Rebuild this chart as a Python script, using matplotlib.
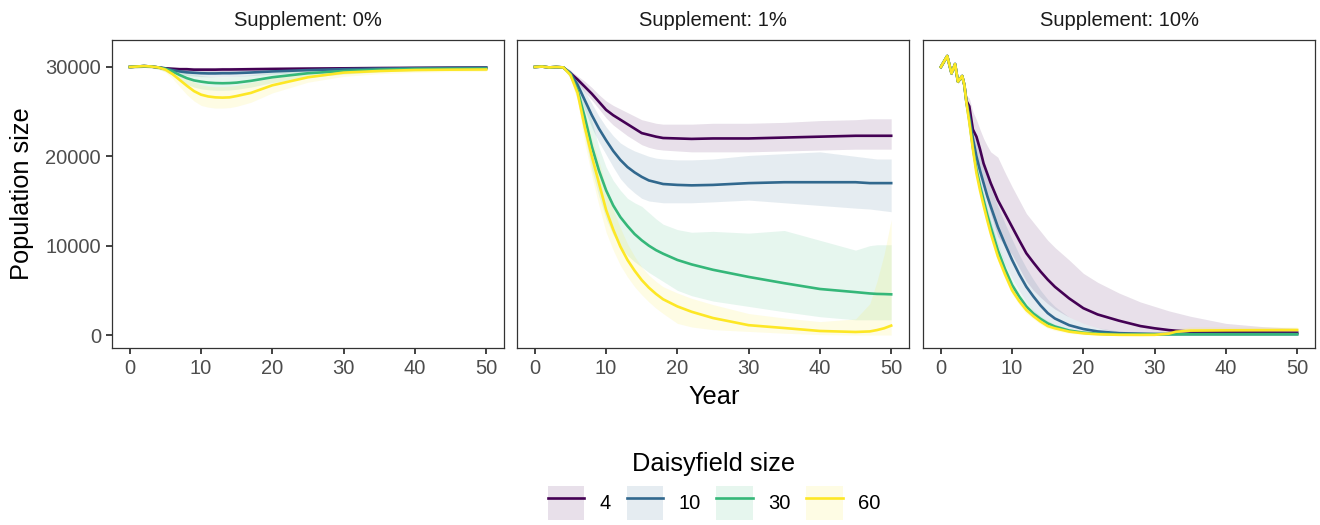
import matplotlib
matplotlib.use("Agg")
import matplotlib.pyplot as plt
from matplotlib.patches import Patch
from matplotlib.lines import Line2D

plt.rcParams['font.family'] = ['Liberation Sans', 'DejaVu Sans']

# ---------------- data ----------------
facet_titles = ["Supplement: 0%", "Supplement: 1%", "Supplement: 10%"]
sizes = ["4", "10", "30", "60"]
colors = ["#440154", "#31688E", "#35B779", "#FDE725"]

# Supplement 0%
yr0 = [0, 1, 2, 3, 4, 5, 6, 7, 8, 9, 10, 11, 12, 13, 14, 15, 17, 20, 25, 30, 35, 40, 45, 50]
s0_d4 = [30000, 30050, 30100, 30050, 29950, 29850, 29800, 29750, 29750, 29700, 29700, 29700, 29700, 29720, 29720, 29730, 29750, 29780, 29820, 29850, 29880, 29900, 29920, 29930]
s0_d4_lo = [29850, 29900, 29950, 29900, 29800, 29650, 29550, 29500, 29480, 29450, 29450, 29450, 29450, 29460, 29470, 29480, 29500, 29550, 29600, 29650, 29700, 29720, 29750, 29760]
s0_d4_hi = [30150, 30200, 30250, 30200, 30100, 30050, 30000, 29980, 29980, 29950, 29950, 29950, 29950, 29960, 29960, 29970, 29990, 30000, 30030, 30050, 30080, 30100, 30100, 30120]
s0_d10 = [30000, 30050, 30100, 30050, 29950, 29800, 29650, 29500, 29400, 29350, 29300, 29280, 29280, 29300, 29300, 29320, 29380, 29500, 29650, 29750, 29820, 29870, 29900, 29920]
s0_d10_lo = [29850, 29900, 29950, 29900, 29800, 29600, 29400, 29200, 29050, 28980, 28920, 28900, 28900, 28920, 28930, 28950, 29030, 29200, 29400, 29550, 29650, 29720, 29760, 29780]
s0_d10_hi = [30150, 30200, 30250, 30200, 30100, 30000, 29900, 29800, 29750, 29700, 29680, 29660, 29660, 29680, 29680, 29700, 29730, 29800, 29900, 29950, 30000, 30020, 30040, 30060]
s0_d30 = [30000, 30050, 30100, 30050, 29950, 29800, 29500, 29100, 28750, 28500, 28360, 28250, 28200, 28180, 28200, 28250, 28450, 28850, 29300, 29550, 29700, 29780, 29800, 29820]
s0_d30_lo = [29850, 29900, 29950, 29900, 29750, 29500, 29050, 28500, 28050, 27750, 27550, 27450, 27400, 27400, 27420, 27500, 27750, 28250, 28850, 29200, 29450, 29580, 29620, 29650]
s0_d30_hi = [30150, 30200, 30250, 30200, 30100, 30050, 29900, 29650, 29400, 29200, 29050, 28950, 28900, 28900, 28920, 28970, 29120, 29400, 29700, 29850, 29930, 29980, 30000, 30000]
s0_d60 = [30000, 30050, 30100, 30050, 29950, 29700, 29200, 28550, 27900, 27300, 26900, 26700, 26600, 26570, 26600, 26750, 27100, 27950, 28850, 29370, 29550, 29660, 29700, 29720]
s0_d60_lo = [29850, 29900, 29950, 29900, 29750, 29400, 28700, 27800, 26900, 26200, 25700, 25500, 25400, 25400, 25450, 25600, 26050, 27100, 28300, 28950, 29250, 29400, 29480, 29500]
s0_d60_hi = [30150, 30200, 30250, 30200, 30100, 29950, 29600, 29150, 28700, 28300, 28000, 27850, 27800, 27800, 27850, 27950, 28250, 28800, 29400, 29700, 29830, 29900, 29930, 29950]

# Supplement 1%
yr1 = [0, 1, 2, 3, 4, 5, 6, 7, 8, 9, 10, 11, 12, 13, 14, 15, 16, 17, 18, 20, 22, 25, 30, 35, 40, 45, 47, 48, 49, 50]
s1_d4 = [30000, 30050, 29950, 30000, 29950, 29300, 28600, 27800, 27000, 26100, 25200, 24600, 24100, 23600, 23100, 22600, 22400, 22200, 22050, 22000, 21950, 22000, 22000, 22100, 22200, 22300, 22300, 22300, 22300, 22300]
s1_d4_lo = [29900, 29950, 29850, 29900, 29850, 29000, 28200, 27200, 26300, 25300, 24300, 23500, 22900, 22300, 21800, 21300, 21000, 20800, 20700, 20600, 20500, 20500, 20500, 20600, 20700, 20800, 20800, 20800, 20800, 20800]
s1_d4_hi = [30100, 30150, 30050, 30100, 30050, 29600, 29000, 28400, 27700, 26900, 26200, 25700, 25300, 24900, 24500, 24100, 23900, 23700, 23600, 23600, 23600, 23700, 23700, 23800, 24000, 24100, 24200, 24200, 24200, 24200]
s1_d10 = [30000, 30050, 29950, 30000, 29950, 29300, 28000, 26300, 24600, 23100, 21800, 20600, 19600, 18800, 18200, 17700, 17300, 17100, 16900, 16800, 16750, 16800, 17000, 17100, 17100, 17100, 17000, 17000, 17000, 17000]
s1_d10_lo = [29900, 29950, 29850, 29900, 29850, 28900, 27300, 25200, 23200, 21600, 20200, 18800, 17500, 16600, 15900, 15300, 15000, 14900, 14800, 14800, 14800, 14900, 15100, 14800, 14500, 14200, 14100, 14000, 13900, 13800]
s1_d10_hi = [30100, 30150, 30050, 30100, 30050, 29700, 28700, 27300, 25900, 24500, 23300, 22300, 21500, 21000, 20600, 20300, 20000, 19800, 19700, 19600, 19600, 19700, 20100, 20300, 20500, 20000, 19800, 19700, 19700, 19700]
s1_d30 = [30000, 30050, 29950, 30000, 29950, 29200, 27400, 24400, 21100, 18400, 16200, 14500, 13200, 12200, 11300, 10600, 10000, 9500, 9100, 8400, 7900, 7300, 6500, 5800, 5150, 4800, 4650, 4600, 4580, 4550]
s1_d30_lo = [29900, 29950, 29850, 29900, 29850, 28800, 26300, 22300, 18500, 15500, 13000, 11200, 9900, 8900, 8200, 7600, 7000, 6500, 6000, 5000, 4400, 3800, 3200, 2600, 2050, 1700, 1700, 1700, 1700, 1700]
s1_d30_hi = [30100, 30150, 30050, 30100, 30050, 29600, 28500, 26500, 24000, 21000, 18800, 17300, 16200, 15300, 14800, 14400, 13700, 13000, 12400, 11800, 11500, 11600, 11400, 11700, 10600, 9500, 10000, 10100, 10100, 10100]
s1_d60 = [30000, 30050, 29950, 30000, 29950, 29100, 27100, 23300, 20000, 17000, 14000, 11800, 9900, 8400, 7200, 6150, 5300, 4600, 4000, 3200, 2600, 1900, 1100, 780, 450, 340, 400, 550, 750, 1050]
s1_d60_lo = [29900, 29950, 29850, 29900, 29850, 28700, 26200, 21500, 17800, 14500, 11500, 9500, 7800, 6500, 5400, 4500, 3700, 3000, 2400, 1300, 900, 600, 400, 200, 50, 0, 0, 0, 0, 0]
s1_d60_hi = [30100, 30150, 30050, 30100, 30050, 29500, 28000, 25000, 22000, 19500, 16500, 14000, 12000, 10200, 8800, 7600, 6700, 6000, 5400, 4700, 4100, 3400, 2400, 1900, 1500, 1800, 3500, 6000, 9000, 12900]

# Supplement 10%
yr2 = [0, 0.9, 1.5, 2, 2.4, 3, 3.3, 3.6, 4, 4.5, 5, 5.5, 6, 6.5, 7, 8, 9, 10, 11, 12, 13, 14, 15, 16, 18, 20, 22, 25, 28, 30, 32, 33, 35, 40, 45, 50]
s2_d4 = [30000, 31230, 29290, 30330, 28360, 28990, 27990, 26200, 25600, 23000, 22200, 20800, 19200, 18100, 17000, 15100, 13600, 12100, 10600, 9150, 8100, 7100, 6200, 5400, 4100, 3000, 2300, 1600, 1000, 750, 550, 480, 380, 300, 280, 260]
s2_d4_lo = [29800, 31030, 29090, 30130, 28160, 28790, 27790, 25500, 24000, 21500, 20500, 18500, 16500, 15000, 13500, 11000, 10000, 9000, 7500, 6000, 5000, 4200, 3500, 2900, 2000, 1300, 800, 300, 100, 0, 0, 0, 0, 0, 0, 0]
s2_d4_hi = [30200, 31430, 29490, 30530, 28560, 29190, 28190, 26800, 26500, 25000, 24100, 23000, 22000, 21200, 20500, 19900, 18200, 16600, 15100, 13600, 12600, 11600, 10600, 9800, 8400, 6900, 5900, 4700, 3700, 3200, 2700, 2500, 2100, 1300, 950, 750]
s2_d10 = [30000, 31230, 29290, 30330, 28360, 28990, 27990, 26000, 24500, 22000, 20000, 18400, 17000, 15600, 14400, 12100, 10200, 8400, 6800, 5400, 4300, 3300, 2450, 1850, 1100, 670, 400, 200, 150, 120, 110, 110, 110, 110, 110, 110]
s2_d10_lo = [29800, 31030, 29090, 30130, 28160, 28790, 27790, 25600, 23500, 20500, 18300, 16500, 15000, 13500, 12300, 10000, 8000, 6300, 4900, 3700, 2700, 1900, 1300, 900, 400, 150, 50, 0, 0, 0, 0, 0, 0, 0, 0, 0]
s2_d10_hi = [30200, 31430, 29490, 30530, 28560, 29190, 28190, 26400, 25500, 23500, 21800, 20300, 19000, 17700, 16500, 14400, 12500, 10700, 9000, 7500, 6200, 5000, 4000, 3200, 2000, 1300, 800, 450, 300, 250, 250, 250, 250, 250, 250, 250]
s2_d30 = [30000, 31230, 29290, 30330, 28360, 28990, 27990, 26000, 24000, 21000, 18500, 16700, 15100, 13500, 12100, 9500, 7400, 5600, 4300, 3200, 2400, 1800, 1300, 950, 500, 260, 150, 75, 75, 75, 75, 75, 75, 75, 75, 75]
s2_d30_lo = [29800, 31030, 29090, 30130, 28160, 28790, 27790, 25800, 23500, 20200, 17700, 15900, 14300, 12700, 11300, 8700, 6700, 5000, 3800, 2700, 2000, 1500, 1000, 700, 300, 120, 50, 0, 0, 0, 0, 0, 0, 0, 0, 0]
s2_d30_hi = [30200, 31430, 29490, 30530, 28560, 29190, 28190, 26200, 24500, 21800, 19300, 17500, 15900, 14300, 12900, 10300, 8100, 6200, 4800, 3700, 2800, 2100, 1600, 1200, 700, 400, 250, 150, 150, 150, 150, 150, 150, 150, 150, 150]
s2_d60 = [30000, 31230, 29290, 30330, 28360, 28990, 27990, 26000, 23800, 20800, 18100, 16200, 14500, 12900, 11400, 8800, 6800, 5000, 3800, 2800, 2100, 1500, 1000, 750, 380, 190, 80, 20, 10, 20, 150, 370, 490, 520, 540, 560]
s2_d60_lo = [29800, 31030, 29090, 30130, 28160, 28790, 27790, 25700, 23300, 20200, 17500, 15600, 13900, 12300, 10800, 8300, 6300, 4600, 3400, 2400, 1800, 1200, 750, 500, 200, 50, 0, 0, 0, 0, 0, 50, 100, 150, 200, 200]
s2_d60_hi = [30200, 31430, 29490, 30530, 28560, 29190, 28190, 26300, 24300, 21400, 18700, 16800, 15100, 13500, 12000, 9300, 7300, 5400, 4200, 3200, 2400, 1800, 1250, 1000, 550, 330, 200, 100, 100, 200, 400, 700, 900, 900, 900, 900]

# ---------------- figure ----------------
W, H = 1320, 525
fig = plt.figure(figsize=(W / 100, H / 100), dpi=100)

panels = [
    (yr0, [(s0_d4, s0_d4_lo, s0_d4_hi), (s0_d10, s0_d10_lo, s0_d10_hi),
           (s0_d30, s0_d30_lo, s0_d30_hi), (s0_d60, s0_d60_lo, s0_d60_hi)]),
    (yr1, [(s1_d4, s1_d4_lo, s1_d4_hi), (s1_d10, s1_d10_lo, s1_d10_hi),
           (s1_d30, s1_d30_lo, s1_d30_hi), (s1_d60, s1_d60_lo, s1_d60_hi)]),
    (yr2, [(s2_d4, s2_d4_lo, s2_d4_hi), (s2_d10, s2_d10_lo, s2_d10_hi),
           (s2_d30, s2_d30_lo, s2_d30_hi), (s2_d60, s2_d60_lo, s2_d60_hi)]),
]

lefts = [112, 517, 923]
pw = 392
top_px, bot_px = 40, 348
ribbon_alpha = 0.12
tick_col = "#333333"
lab_col = "#4D4D4D"

for i, (yrs, series) in enumerate(panels):
    ax = fig.add_axes([lefts[i] / W, 1 - bot_px / H, pw / W, (bot_px - top_px) / H])
    for (m, lo, hi), c in zip(series, colors):
        ax.fill_between(yrs, lo, hi, color=c, alpha=ribbon_alpha, linewidth=0)
    for (m, lo, hi), c in zip(series, colors):
        ax.plot(yrs, m, color=c, lw=1.9, solid_joinstyle='round')
    ax.set_xlim(-2.5, 52.5)
    ax.set_ylim(-1455, 33020)
    ax.set_xticks([0, 10, 20, 30, 40, 50])
    ax.set_yticks([0, 10000, 20000, 30000])
    for s in ax.spines.values():
        s.set_color("#333333")
        s.set_linewidth(0.9)
    ax.tick_params(axis='both', direction='out', length=4, width=1.3, color=tick_col,
                   labelcolor=lab_col, labelsize=14.5, pad=4)
    if i > 0:
        ax.tick_params(axis='y', left=False, labelleft=False)
    ax.text(0.5, 1 + 20 / (bot_px - top_px), facet_titles[i], transform=ax.transAxes,
            ha='center', va='center', fontsize=14.5, color='#1A1A1A')

fig.text(22 / W, 1 - 194 / H, "Population size", rotation=90, ha='center', va='center',
         fontsize=18.3, color='black')
fig.text(714 / W, 1 - 397 / H, "Year", ha='center', va='center', fontsize=18.3, color='black')

handles = []
for c in colors:
    p = Patch(facecolor=c, alpha=ribbon_alpha, edgecolor='none')
    l = Line2D([0], [0], color=c, lw=1.9)
    handles.append((p, l))

leg = fig.legend(handles, sizes, loc='center', bbox_to_anchor=(714 / W, 1 - 486 / H),
                 ncol=4, frameon=False, title="Daisyfield size",
                 fontsize=14.5, title_fontsize=18.3,
                 handlelength=1.8, handleheight=2.2, handletextpad=0.75,
                 columnspacing=0.8, borderpad=0.2)
leg.get_title().set_color('black')

fig.savefig("out.png", dpi=100)
